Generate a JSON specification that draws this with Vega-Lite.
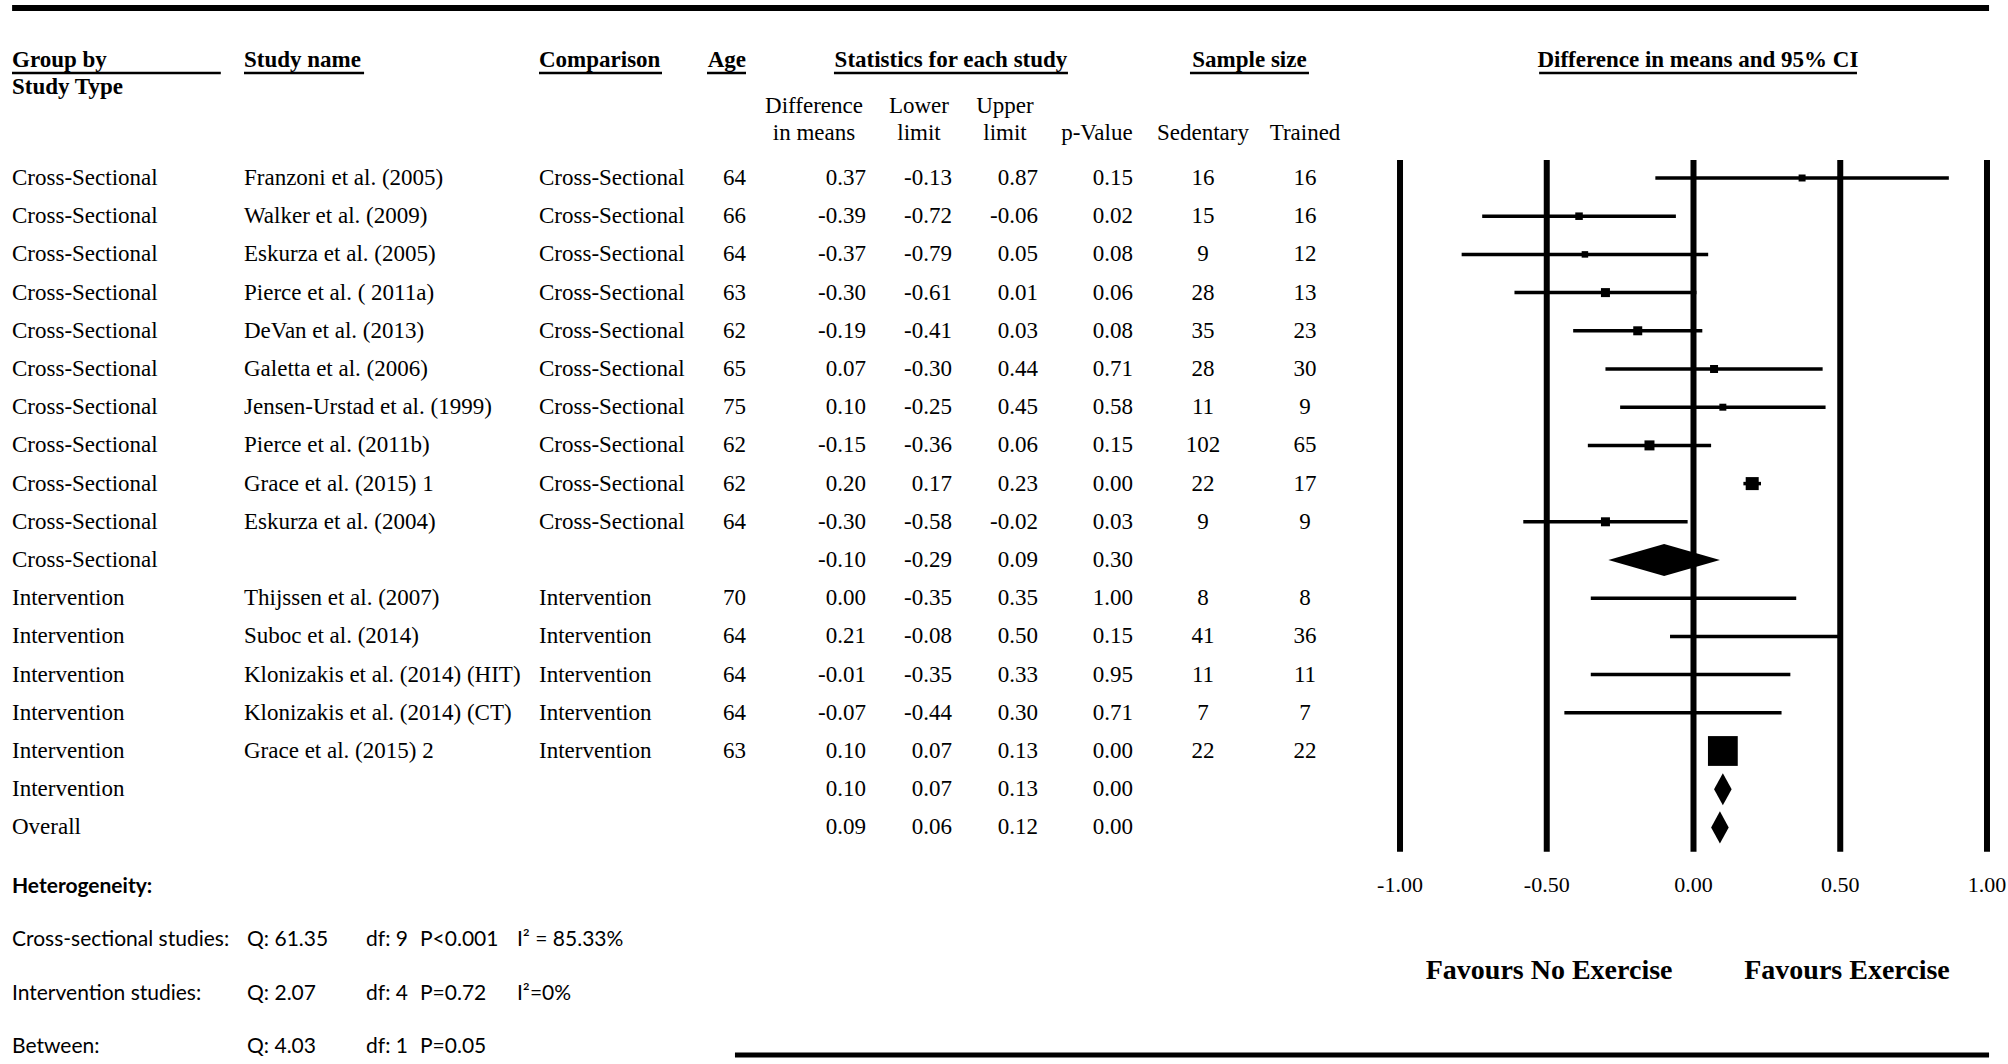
{
"$schema":"https://vega.github.io/schema/vega-lite/v6.json",
"autosize":{"type":"pad"},
"padding":{"left":9,"top":0,"right":0,"bottom":0},
"background":"white",
"spacing":0,
"bounds":"flush",
"resolve":{"scale":{"x":"independent","y":"independent","size":"independent"}},
"config":{"view":{"stroke":null},"mark":{"color":"black"},"text":{"font":"Liberation Serif","fontSize":23,"baseline":"middle","color":"black"},"rule":{"color":"black"},"locale":{"number":{"decimal":".","thousands":",","grouping":[3],"currency":["$",""],"minus":"-"}}},
"datasets":{
"rows":[
{"row":1,"group":"Cross-Sectional","study":"Franzoni et al. (2005)","comparison":"Cross-Sectional","age":64,"diff":0.37,"lower":-0.13,"upper":0.87,"p":0.15,"sed":16,"tr":16,"weight":5.4,"kind":"study"},
{"row":2,"group":"Cross-Sectional","study":"Walker et al. (2009)","comparison":"Cross-Sectional","age":66,"diff":-0.39,"lower":-0.72,"upper":-0.06,"p":0.02,"sed":15,"tr":16,"weight":6.3,"kind":"study"},
{"row":3,"group":"Cross-Sectional","study":"Eskurza et al. (2005)","comparison":"Cross-Sectional","age":64,"diff":-0.37,"lower":-0.79,"upper":0.05,"p":0.08,"sed":9,"tr":12,"weight":4.7,"kind":"study"},
{"row":4,"group":"Cross-Sectional","study":"Pierce et al. ( 2011a)","comparison":"Cross-Sectional","age":63,"diff":-0.30,"lower":-0.61,"upper":0.01,"p":0.06,"sed":28,"tr":13,"weight":9.0,"kind":"study"},
{"row":5,"group":"Cross-Sectional","study":"DeVan et al. (2013)","comparison":"Cross-Sectional","age":62,"diff":-0.19,"lower":-0.41,"upper":0.03,"p":0.08,"sed":35,"tr":23,"weight":9.0,"kind":"study"},
{"row":6,"group":"Cross-Sectional","study":"Galetta et al. (2006)","comparison":"Cross-Sectional","age":65,"diff":0.07,"lower":-0.30,"upper":0.44,"p":0.71,"sed":28,"tr":30,"weight":7.1,"kind":"study"},
{"row":7,"group":"Cross-Sectional","study":"Jensen-Urstad et al. (1999)","comparison":"Cross-Sectional","age":75,"diff":0.10,"lower":-0.25,"upper":0.45,"p":0.58,"sed":11,"tr":9,"weight":5.4,"kind":"study"},
{"row":8,"group":"Cross-Sectional","study":"Pierce et al. (2011b)","comparison":"Cross-Sectional","age":62,"diff":-0.15,"lower":-0.36,"upper":0.06,"p":0.15,"sed":102,"tr":65,"weight":11.1,"kind":"study"},
{"row":9,"group":"Cross-Sectional","study":"Grace et al. (2015) 1","comparison":"Cross-Sectional","age":62,"diff":0.20,"lower":0.17,"upper":0.23,"p":0.00,"sed":22,"tr":17,"weight":18.8,"kind":"study"},
{"row":10,"group":"Cross-Sectional","study":"Eskurza et al. (2004)","comparison":"Cross-Sectional","age":64,"diff":-0.30,"lower":-0.58,"upper":-0.02,"p":0.03,"sed":9,"tr":9,"weight":9.0,"kind":"study"},
{"row":11,"group":"Cross-Sectional","study":null,"comparison":null,"age":null,"diff":-0.10,"lower":-0.29,"upper":0.09,"p":0.30,"sed":null,"tr":null,"weight":null,"kind":"summary"},
{"row":12,"group":"Intervention","study":"Thijssen et al. (2007)","comparison":"Intervention","age":70,"diff":0.00,"lower":-0.35,"upper":0.35,"p":1.00,"sed":8,"tr":8,"weight":0.3,"kind":"study"},
{"row":13,"group":"Intervention","study":"Suboc et al. (2014)","comparison":"Intervention","age":64,"diff":0.21,"lower":-0.08,"upper":0.50,"p":0.15,"sed":41,"tr":36,"weight":0.4,"kind":"study"},
{"row":14,"group":"Intervention","study":"Klonizakis et al. (2014) (HIT)","comparison":"Intervention","age":64,"diff":-0.01,"lower":-0.35,"upper":0.33,"p":0.95,"sed":11,"tr":11,"weight":0.3,"kind":"study"},
{"row":15,"group":"Intervention","study":"Klonizakis et al. (2014) (CT)","comparison":"Intervention","age":64,"diff":-0.07,"lower":-0.44,"upper":0.30,"p":0.71,"sed":7,"tr":7,"weight":0.3,"kind":"study"},
{"row":16,"group":"Intervention","study":"Grace et al. (2015) 2","comparison":"Intervention","age":63,"diff":0.10,"lower":0.07,"upper":0.13,"p":0.00,"sed":22,"tr":22,"weight":98.7,"kind":"study"},
{"row":17,"group":"Intervention","study":null,"comparison":null,"age":null,"diff":0.10,"lower":0.07,"upper":0.13,"p":0.00,"sed":null,"tr":null,"weight":null,"kind":"summary"},
{"row":18,"group":"Overall","study":null,"comparison":null,"age":null,"diff":0.09,"lower":0.06,"upper":0.12,"p":0.00,"sed":null,"tr":null,"weight":null,"kind":"summary"}
],
"ticks":[{"v":-1},{"v":-0.5},{"v":0},{"v":0.5},{"v":1}],
"het":[
{"line":1,"label":"Cross-sectional studies:","q":"Q: 61.35","df":"df: 9","p":"P<0.001","i2":"I² = 85.33%"},
{"line":2,"label":"Intervention studies:","q":"Q: 2.07","df":"df: 4","p":"P=0.72","i2":"I²=0%"},
{"line":3,"label":"Between:","q":"Q: 4.03","df":"df: 1","p":"P=0.05","i2":null}
]
},
"hconcat":[
{"width":232,"height":1064,"resolve":{"scale":{"y":"independent"}},"layer":[
{"data":{"name":"rows"},"mark":{"type":"text","align":"left"},"encoding":{"x":{"datum":0,"type":"quantitative","scale":{"domain":[0,1],"nice":false,"zero":false},"axis":null},"y":{"field":"row","type":"quantitative","scale":{"domain":[-3.6597,24.194],"reverse":true,"nice":false,"zero":false},"axis":null},"text":{"field":"group"}}},
{"data":{"values":[{}]},"mark":{"type":"text","align":"left","fontWeight":"bold"},"encoding":{"x":{"datum":0,"type":"quantitative","scale":{"domain":[0,1],"nice":false,"zero":false},"axis":null},"y":{"datum":-2.089,"type":"quantitative","scale":{"domain":[-3.6597,24.194],"reverse":true,"nice":false,"zero":false},"axis":null},"text":{"value":"Group by"}}},
{"data":{"values":[{}]},"mark":{"type":"text","align":"left","fontWeight":"bold"},"encoding":{"x":{"datum":0,"type":"quantitative","scale":{"domain":[0,1],"nice":false,"zero":false},"axis":null},"y":{"datum":-1.382,"type":"quantitative","scale":{"domain":[-3.6597,24.194],"reverse":true,"nice":false,"zero":false},"axis":null},"text":{"value":"Study Type"}}},
{"data":{"values":[{}]},"mark":{"type":"rule","strokeWidth":2.5},"encoding":{"x":{"datum":0,"type":"quantitative","scale":{"domain":[0,1],"nice":false,"zero":false},"axis":null},"x2":{"datum":0.9},"y":{"datum":-1.749,"type":"quantitative","scale":{"domain":[-3.6597,24.194],"reverse":true,"nice":false,"zero":false},"axis":null}}},
{"data":{"values":[{}]},"mark":{"type":"text","align":"left","font":"Lato","fontSize":21,"fontWeight":"bold"},"encoding":{"x":{"datum":0,"type":"quantitative","scale":{"domain":[0,1],"nice":false,"zero":false},"axis":null},"y":{"datum":0,"type":"quantitative","scale":{"domain":[-16.63,3.319],"reverse":true,"nice":false,"zero":false},"axis":null},"text":{"value":"Heterogeneity:"}}},
{"data":{"name":"het"},"mark":{"type":"text","align":"left","font":"Lato","fontSize":21},"encoding":{"x":{"datum":0,"type":"quantitative","scale":{"domain":[0,1],"nice":false,"zero":false},"axis":null},"y":{"field":"line","type":"quantitative","scale":{"domain":[-16.63,3.319],"reverse":true,"nice":false,"zero":false},"axis":null},"text":{"field":"label"}}}
]},
{"width":295,"height":1064,"resolve":{"scale":{"y":"independent"}},"layer":[
{"data":{"name":"rows"},"transform":[{"filter":"isValid(datum.study)"}],"mark":{"type":"text","align":"left"},"encoding":{"x":{"datum":0,"type":"quantitative","scale":{"domain":[0,1],"nice":false,"zero":false},"axis":null},"y":{"field":"row","type":"quantitative","scale":{"domain":[-3.6597,24.194],"reverse":true,"nice":false,"zero":false},"axis":null},"text":{"field":"study"}}},
{"data":{"values":[{}]},"mark":{"type":"text","align":"left","fontWeight":"bold"},"encoding":{"x":{"datum":0,"type":"quantitative","scale":{"domain":[0,1],"nice":false,"zero":false},"axis":null},"y":{"datum":-2.089,"type":"quantitative","scale":{"domain":[-3.6597,24.194],"reverse":true,"nice":false,"zero":false},"axis":null},"text":{"value":"Study name"}}},
{"data":{"values":[{}]},"mark":{"type":"rule","strokeWidth":2.5},"encoding":{"x":{"datum":0,"type":"quantitative","scale":{"domain":[0,1],"nice":false,"zero":false},"axis":null},"x2":{"datum":0.407},"y":{"datum":-1.749,"type":"quantitative","scale":{"domain":[-3.6597,24.194],"reverse":true,"nice":false,"zero":false},"axis":null}}},
{"data":{"name":"het"},"mark":{"type":"text","align":"left","font":"Lato","fontSize":21},"encoding":{"x":{"datum":0.0102,"type":"quantitative","scale":{"domain":[0,1],"nice":false,"zero":false},"axis":null},"y":{"field":"line","type":"quantitative","scale":{"domain":[-16.63,3.319],"reverse":true,"nice":false,"zero":false},"axis":null},"text":{"field":"q"}}},
{"data":{"name":"het"},"mark":{"type":"text","align":"left","font":"Lato","fontSize":21},"encoding":{"x":{"datum":0.4136,"type":"quantitative","scale":{"domain":[0,1],"nice":false,"zero":false},"axis":null},"y":{"field":"line","type":"quantitative","scale":{"domain":[-16.63,3.319],"reverse":true,"nice":false,"zero":false},"axis":null},"text":{"field":"df"}}},
{"data":{"name":"het"},"mark":{"type":"text","align":"left","font":"Lato","fontSize":21},"encoding":{"x":{"datum":0.5966,"type":"quantitative","scale":{"domain":[0,1],"nice":false,"zero":false},"axis":null},"y":{"field":"line","type":"quantitative","scale":{"domain":[-16.63,3.319],"reverse":true,"nice":false,"zero":false},"axis":null},"text":{"field":"p"}}},
{"data":{"name":"het"},"transform":[{"filter":"isValid(datum.i2)"}],"mark":{"type":"text","align":"left","font":"Lato","fontSize":21},"encoding":{"x":{"datum":0.9254,"type":"quantitative","scale":{"domain":[0,1],"nice":false,"zero":false},"axis":null},"y":{"field":"line","type":"quantitative","scale":{"domain":[-16.63,3.319],"reverse":true,"nice":false,"zero":false},"axis":null},"text":{"field":"i2"}}}
]},
{"width":164,"height":1064,"layer":[
{"data":{"name":"rows"},"transform":[{"filter":"isValid(datum.comparison)"}],"mark":{"type":"text","align":"left"},"encoding":{"x":{"datum":0,"type":"quantitative","scale":{"domain":[0,1],"nice":false,"zero":false},"axis":null},"y":{"field":"row","type":"quantitative","scale":{"domain":[-3.6597,24.194],"reverse":true,"nice":false,"zero":false},"axis":null},"text":{"field":"comparison"}}},
{"data":{"values":[{}]},"mark":{"type":"text","align":"left","fontWeight":"bold"},"encoding":{"x":{"datum":0,"type":"quantitative","scale":{"domain":[0,1],"nice":false,"zero":false},"axis":null},"y":{"datum":-2.089,"type":"quantitative","scale":{"domain":[-3.6597,24.194],"reverse":true,"nice":false,"zero":false},"axis":null},"text":{"value":"Comparison"}}},
{"data":{"values":[{}]},"mark":{"type":"rule","strokeWidth":2.5},"encoding":{"x":{"datum":0,"type":"quantitative","scale":{"domain":[0,1],"nice":false,"zero":false},"axis":null},"x2":{"datum":0.75},"y":{"datum":-1.749,"type":"quantitative","scale":{"domain":[-3.6597,24.194],"reverse":true,"nice":false,"zero":false},"axis":null}}}
]},
{"width":43,"height":1064,"layer":[
{"data":{"name":"rows"},"transform":[{"filter":"isValid(datum.age)"}],"mark":{"type":"text","align":"right"},"encoding":{"x":{"datum":1,"type":"quantitative","scale":{"domain":[0,1],"nice":false,"zero":false},"axis":null},"y":{"field":"row","type":"quantitative","scale":{"domain":[-3.6597,24.194],"reverse":true,"nice":false,"zero":false},"axis":null},"text":{"field":"age"}}},
{"data":{"values":[{}]},"mark":{"type":"text","align":"right","fontWeight":"bold"},"encoding":{"x":{"datum":1,"type":"quantitative","scale":{"domain":[0,1],"nice":false,"zero":false},"axis":null},"y":{"datum":-2.089,"type":"quantitative","scale":{"domain":[-3.6597,24.194],"reverse":true,"nice":false,"zero":false},"axis":null},"text":{"value":"Age"}}},
{"data":{"values":[{}]},"mark":{"type":"rule","strokeWidth":2.5},"encoding":{"x":{"datum":0.093,"type":"quantitative","scale":{"domain":[0,1],"nice":false,"zero":false},"axis":null},"x2":{"datum":1},"y":{"datum":-1.749,"type":"quantitative","scale":{"domain":[-3.6597,24.194],"reverse":true,"nice":false,"zero":false},"axis":null}}}
]},
{"width":120,"height":1064,"layer":[
{"data":{"name":"rows"},"mark":{"type":"text","align":"right"},"encoding":{"x":{"datum":1,"type":"quantitative","scale":{"domain":[0,1],"nice":false,"zero":false},"axis":null},"y":{"field":"row","type":"quantitative","scale":{"domain":[-3.6597,24.194],"reverse":true,"nice":false,"zero":false},"axis":null},"text":{"field":"diff","type":"quantitative","format":".2f"}}},
{"data":{"values":[{}]},"mark":{"type":"text","align":"center","fontWeight":"bold"},"encoding":{"x":{"datum":1.708,"type":"quantitative","scale":{"domain":[0,1],"nice":false,"zero":false},"axis":null},"y":{"datum":-2.089,"type":"quantitative","scale":{"domain":[-3.6597,24.194],"reverse":true,"nice":false,"zero":false},"axis":null},"text":{"value":"Statistics for each study"}}},
{"data":{"values":[{}]},"mark":{"type":"rule","strokeWidth":2.5},"encoding":{"x":{"datum":0.733,"type":"quantitative","scale":{"domain":[0,1],"nice":false,"zero":false},"axis":null},"x2":{"datum":2.683},"y":{"datum":-1.749,"type":"quantitative","scale":{"domain":[-3.6597,24.194],"reverse":true,"nice":false,"zero":false},"axis":null}}},
{"data":{"values":[{}]},"mark":{"type":"text","align":"center"},"encoding":{"x":{"datum":0.567,"type":"quantitative","scale":{"domain":[0,1],"nice":false,"zero":false},"axis":null},"y":{"datum":-0.872,"type":"quantitative","scale":{"domain":[-3.6597,24.194],"reverse":true,"nice":false,"zero":false},"axis":null},"text":{"value":"Difference"}}},
{"data":{"values":[{}]},"mark":{"type":"text","align":"center"},"encoding":{"x":{"datum":0.567,"type":"quantitative","scale":{"domain":[0,1],"nice":false,"zero":false},"axis":null},"y":{"datum":-0.178,"type":"quantitative","scale":{"domain":[-3.6597,24.194],"reverse":true,"nice":false,"zero":false},"axis":null},"text":{"value":"in means"}}}
]},
{"width":86,"height":1064,"layer":[
{"data":{"name":"rows"},"mark":{"type":"text","align":"right"},"encoding":{"x":{"datum":1,"type":"quantitative","scale":{"domain":[0,1],"nice":false,"zero":false},"axis":null},"y":{"field":"row","type":"quantitative","scale":{"domain":[-3.6597,24.194],"reverse":true,"nice":false,"zero":false},"axis":null},"text":{"field":"lower","type":"quantitative","format":".2f"}}},
{"data":{"values":[{}]},"mark":{"type":"text","align":"center"},"encoding":{"x":{"datum":0.616,"type":"quantitative","scale":{"domain":[0,1],"nice":false,"zero":false},"axis":null},"y":{"datum":-0.872,"type":"quantitative","scale":{"domain":[-3.6597,24.194],"reverse":true,"nice":false,"zero":false},"axis":null},"text":{"value":"Lower"}}},
{"data":{"values":[{}]},"mark":{"type":"text","align":"center"},"encoding":{"x":{"datum":0.616,"type":"quantitative","scale":{"domain":[0,1],"nice":false,"zero":false},"axis":null},"y":{"datum":-0.178,"type":"quantitative","scale":{"domain":[-3.6597,24.194],"reverse":true,"nice":false,"zero":false},"axis":null},"text":{"value":"limit"}}}
]},
{"width":86,"height":1064,"layer":[
{"data":{"name":"rows"},"mark":{"type":"text","align":"right"},"encoding":{"x":{"datum":1,"type":"quantitative","scale":{"domain":[0,1],"nice":false,"zero":false},"axis":null},"y":{"field":"row","type":"quantitative","scale":{"domain":[-3.6597,24.194],"reverse":true,"nice":false,"zero":false},"axis":null},"text":{"field":"upper","type":"quantitative","format":".2f"}}},
{"data":{"values":[{}]},"mark":{"type":"text","align":"center"},"encoding":{"x":{"datum":0.616,"type":"quantitative","scale":{"domain":[0,1],"nice":false,"zero":false},"axis":null},"y":{"datum":-0.872,"type":"quantitative","scale":{"domain":[-3.6597,24.194],"reverse":true,"nice":false,"zero":false},"axis":null},"text":{"value":"Upper"}}},
{"data":{"values":[{}]},"mark":{"type":"text","align":"center"},"encoding":{"x":{"datum":0.616,"type":"quantitative","scale":{"domain":[0,1],"nice":false,"zero":false},"axis":null},"y":{"datum":-0.178,"type":"quantitative","scale":{"domain":[-3.6597,24.194],"reverse":true,"nice":false,"zero":false},"axis":null},"text":{"value":"limit"}}}
]},
{"width":95,"height":1064,"layer":[
{"data":{"name":"rows"},"mark":{"type":"text","align":"right"},"encoding":{"x":{"datum":1,"type":"quantitative","scale":{"domain":[0,1],"nice":false,"zero":false},"axis":null},"y":{"field":"row","type":"quantitative","scale":{"domain":[-3.6597,24.194],"reverse":true,"nice":false,"zero":false},"axis":null},"text":{"field":"p","type":"quantitative","format":".2f"}}},
{"data":{"values":[{}]},"mark":{"type":"text","align":"center"},"encoding":{"x":{"datum":0.62,"type":"quantitative","scale":{"domain":[0,1],"nice":false,"zero":false},"axis":null},"y":{"datum":-0.178,"type":"quantitative","scale":{"domain":[-3.6597,24.194],"reverse":true,"nice":false,"zero":false},"axis":null},"text":{"value":"p-Value"}}}
]},
{"width":140,"height":1064,"layer":[
{"data":{"name":"rows"},"transform":[{"filter":"isValid(datum.sed)"}],"mark":{"type":"text","align":"center"},"encoding":{"x":{"datum":0.5,"type":"quantitative","scale":{"domain":[0,1],"nice":false,"zero":false},"axis":null},"y":{"field":"row","type":"quantitative","scale":{"domain":[-3.6597,24.194],"reverse":true,"nice":false,"zero":false},"axis":null},"text":{"field":"sed"}}},
{"data":{"values":[{}]},"mark":{"type":"text","align":"center"},"encoding":{"x":{"datum":0.5,"type":"quantitative","scale":{"domain":[0,1],"nice":false,"zero":false},"axis":null},"y":{"datum":-0.178,"type":"quantitative","scale":{"domain":[-3.6597,24.194],"reverse":true,"nice":false,"zero":false},"axis":null},"text":{"value":"Sedentary"}}},
{"data":{"values":[{}]},"mark":{"type":"text","align":"center","fontWeight":"bold"},"encoding":{"x":{"datum":0.832,"type":"quantitative","scale":{"domain":[0,1],"nice":false,"zero":false},"axis":null},"y":{"datum":-2.089,"type":"quantitative","scale":{"domain":[-3.6597,24.194],"reverse":true,"nice":false,"zero":false},"axis":null},"text":{"value":"Sample size"}}},
{"data":{"values":[{}]},"mark":{"type":"rule","strokeWidth":2.5},"encoding":{"x":{"datum":0.407,"type":"quantitative","scale":{"domain":[0,1],"nice":false,"zero":false},"axis":null},"x2":{"datum":1.257},"y":{"datum":-1.749,"type":"quantitative","scale":{"domain":[-3.6597,24.194],"reverse":true,"nice":false,"zero":false},"axis":null}}}
]},
{"width":64,"height":1064,"layer":[
{"data":{"name":"rows"},"transform":[{"filter":"isValid(datum.tr)"}],"mark":{"type":"text","align":"center"},"encoding":{"x":{"datum":0.5,"type":"quantitative","scale":{"domain":[0,1],"nice":false,"zero":false},"axis":null},"y":{"field":"row","type":"quantitative","scale":{"domain":[-3.6597,24.194],"reverse":true,"nice":false,"zero":false},"axis":null},"text":{"field":"tr"}}},
{"data":{"values":[{}]},"mark":{"type":"text","align":"center"},"encoding":{"x":{"datum":0.5,"type":"quantitative","scale":{"domain":[0,1],"nice":false,"zero":false},"axis":null},"y":{"datum":-0.178,"type":"quantitative","scale":{"domain":[-3.6597,24.194],"reverse":true,"nice":false,"zero":false},"axis":null},"text":{"value":"Trained"}}}
]},
{"width":674,"height":1064,"layer":[
{"data":{"name":"ticks"},"mark":{"type":"rule","strokeWidth":6},"encoding":{"x":{"field":"v","type":"quantitative","scale":{"domain":[-1.2147,1.0818],"nice":false,"zero":false},"axis":null},"y":{"datum":0.529,"type":"quantitative","scale":{"domain":[-3.6597,24.194],"reverse":true,"nice":false,"zero":false},"axis":null},"y2":{"datum":18.64}}},
{"data":{"name":"ticks"},"mark":{"type":"text","align":"center","fontSize":22},"encoding":{"x":{"field":"v","type":"quantitative","scale":{"domain":[-1.2147,1.0818],"nice":false,"zero":false},"axis":null},"y":{"datum":19.5,"type":"quantitative","scale":{"domain":[-3.6597,24.194],"reverse":true,"nice":false,"zero":false},"axis":null},"text":{"field":"v","type":"quantitative","format":".2f"}}},
{"data":{"name":"rows"},"transform":[{"filter":"datum.kind == 'study'"}],"mark":{"type":"rule","strokeWidth":3.5},"encoding":{"x":{"field":"lower","type":"quantitative","scale":{"domain":[-1.2147,1.0818],"nice":false,"zero":false},"axis":null},"x2":{"field":"upper"},"y":{"field":"row","type":"quantitative","scale":{"domain":[-3.6597,24.194],"reverse":true,"nice":false,"zero":false},"axis":null}}},
{"data":{"name":"rows"},"transform":[{"filter":"datum.kind == 'study'"}],"mark":{"type":"point","shape":"square","filled":true,"opacity":1,"strokeWidth":0},"encoding":{"x":{"field":"diff","type":"quantitative","scale":{"domain":[-1.2147,1.0818],"nice":false,"zero":false},"axis":null},"y":{"field":"row","type":"quantitative","scale":{"domain":[-3.6597,24.194],"reverse":true,"nice":false,"zero":false},"axis":null},"size":{"field":"weight","type":"quantitative","scale":{"domain":[0,100],"range":[0,900]},"legend":null}}},
{"data":{"name":"rows"},"transform":[{"filter":"datum.kind == 'summary'"},{"fold":["lower","diff","upper"],"as":["pt","xv"]},{"calculate":"datum.pt == 'diff' ? datum.row - 0.42 : datum.row","as":"ytop"},{"calculate":"datum.pt == 'diff' ? datum.row + 0.42 : datum.row","as":"ybot"}],"mark":{"type":"area","orient":"vertical","opacity":1},"encoding":{"x":{"field":"xv","type":"quantitative","scale":{"domain":[-1.2147,1.0818],"nice":false,"zero":false},"axis":null},"y":{"field":"ytop","type":"quantitative","scale":{"domain":[-3.6597,24.194],"reverse":true,"nice":false,"zero":false},"axis":null},"y2":{"field":"ybot"},"detail":{"field":"group"}}},
{"data":{"values":[{}]},"mark":{"type":"text","align":"center","fontWeight":"bold"},"encoding":{"x":{"datum":0.015,"type":"quantitative","scale":{"domain":[-1.2147,1.0818],"nice":false,"zero":false},"axis":null},"y":{"datum":-2.089,"type":"quantitative","scale":{"domain":[-3.6597,24.194],"reverse":true,"nice":false,"zero":false},"axis":null},"text":{"value":"Difference in means and 95% CI"}}},
{"data":{"values":[{}]},"mark":{"type":"rule","strokeWidth":2.5},"encoding":{"x":{"datum":-0.526,"type":"quantitative","scale":{"domain":[-1.2147,1.0818],"nice":false,"zero":false},"axis":null},"x2":{"datum":0.557},"y":{"datum":-1.749,"type":"quantitative","scale":{"domain":[-3.6597,24.194],"reverse":true,"nice":false,"zero":false},"axis":null}}},
{"data":{"values":[{}]},"mark":{"type":"text","align":"center","fontWeight":"bold","fontSize":28},"encoding":{"x":{"datum":-0.492,"type":"quantitative","scale":{"domain":[-1.2147,1.0818],"nice":false,"zero":false},"axis":null},"y":{"datum":21.76,"type":"quantitative","scale":{"domain":[-3.6597,24.194],"reverse":true,"nice":false,"zero":false},"axis":null},"text":{"value":"Favours No Exercise"}}},
{"data":{"values":[{}]},"mark":{"type":"text","align":"center","fontWeight":"bold","fontSize":28},"encoding":{"x":{"datum":0.523,"type":"quantitative","scale":{"domain":[-1.2147,1.0818],"nice":false,"zero":false},"axis":null},"y":{"datum":21.76,"type":"quantitative","scale":{"domain":[-3.6597,24.194],"reverse":true,"nice":false,"zero":false},"axis":null},"text":{"value":"Favours Exercise"}}},
{"data":{"values":[{}]},"mark":{"type":"rule","strokeWidth":6},"encoding":{"x":{"datum":-5.729,"type":"quantitative","scale":{"domain":[-1.2147,1.0818],"nice":false,"zero":false},"axis":null},"x2":{"datum":1.007},"y":{"datum":-3.45,"type":"quantitative","scale":{"domain":[-3.6597,24.194],"reverse":true,"nice":false,"zero":false},"axis":null}}},
{"data":{"values":[{}]},"mark":{"type":"rule","strokeWidth":5},"encoding":{"x":{"datum":-3.266,"type":"quantitative","scale":{"domain":[-1.2147,1.0818],"nice":false,"zero":false},"axis":null},"x2":{"datum":1.007},"y":{"datum":23.958,"type":"quantitative","scale":{"domain":[-3.6597,24.194],"reverse":true,"nice":false,"zero":false},"axis":null}}}
]}
]
}
